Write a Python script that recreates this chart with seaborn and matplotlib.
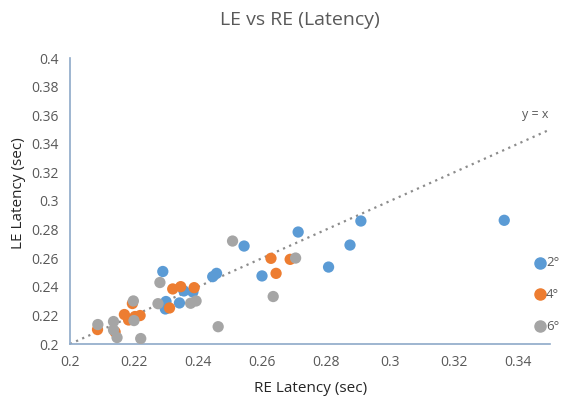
import numpy as np
import pandas as pd
import matplotlib
matplotlib.use("Agg")
import matplotlib.pyplot as plt
import seaborn as sns

# RE / LE latency (sec) per eccentricity
re_2 = [0.2290, 0.2300, 0.2298, 0.2342, 0.2356, 0.2384, 0.2446, 0.2458,
        0.2544, 0.2600, 0.2713, 0.2808, 0.2875, 0.2909, 0.3357]
le_2 = [0.2507, 0.2297, 0.2245, 0.2287, 0.2371, 0.2364, 0.2471, 0.2494,
        0.2685, 0.2476, 0.2783, 0.2538, 0.2692, 0.2860, 0.2865]

re_4 = [0.2086, 0.2141, 0.2170, 0.2183, 0.2195, 0.2203, 0.2219, 0.2311,
        0.2321, 0.2346, 0.2388, 0.2628, 0.2644, 0.2688]
le_4 = [0.2101, 0.2084, 0.2206, 0.2168, 0.2283, 0.2192, 0.2199, 0.2252,
        0.2385, 0.2401, 0.2394, 0.2599, 0.2494, 0.2592]

re_6 = [0.2087, 0.2136, 0.2136, 0.2147, 0.2198, 0.2200, 0.2221, 0.2275,
        0.2281, 0.2377, 0.2394, 0.2463, 0.2508, 0.2635, 0.2705]
le_6 = [0.2136, 0.2157, 0.2098, 0.2045, 0.2301, 0.2164, 0.2038, 0.2282,
        0.2430, 0.2285, 0.2301, 0.2121, 0.2720, 0.2332, 0.2601]

groups = ["2°", "4°", "6°"]
colors = ["#5B9BD5", "#ED7D31", "#A5A5A5"]

x_ticks = [0.2, 0.22, 0.24, 0.26, 0.28, 0.3, 0.32, 0.34]
y_ticks = [0.2, 0.22, 0.24, 0.26, 0.28, 0.3, 0.32, 0.34, 0.36, 0.38, 0.4]

df = pd.DataFrame({
    "RE": re_2 + re_4 + re_6,
    "LE": le_2 + le_4 + le_6,
    "group": [groups[0]] * len(re_2) + [groups[1]] * len(re_4) + [groups[2]] * len(re_6),
})

sns.set_style("white")
plt.rcParams["font.family"] = ["Open Sans", "DejaVu Sans"]

fig = plt.figure(figsize=(5.61, 4.01), dpi=100)
ax = fig.add_axes([70 / 561, 1 - 344 / 401, 480 / 561, 286 / 401])

# y = x reference line
ax.plot([0.2, 0.35], [0.2, 0.35], linestyle=(0, (1, 2)), color="#8c8c8c", linewidth=1.6, zorder=1)
ax.text(0.3455, 0.3605, "y = x", color="#595959", fontsize=9, ha="center", va="center")

sns.scatterplot(data=df, x="RE", y="LE", hue="group", hue_order=groups,
                palette=colors, s=66, linewidth=0, ax=ax, legend=False, zorder=3)

ax.set_xlim(0.2, 0.35)
ax.set_ylim(0.2, 0.4)
ax.set_xticks(x_ticks)
ax.set_yticks(y_ticks)
ax.set_xticklabels([f"{v:g}" for v in x_ticks])
ax.set_yticklabels([f"{v:g}" for v in y_ticks])
ax.tick_params(length=0, labelsize=10, labelcolor="#595959", pad=8)
ax.set_xlabel("")
ax.set_ylabel("")

for side in ["top", "right"]:
    ax.spines[side].set_visible(False)
for side in ["left", "bottom"]:
    ax.spines[side].set_color("#8EA9C8")
    ax.spines[side].set_linewidth(1.2)

fig.text(300 / 561, 1 - 20 / 401, "LE vs RE (Latency)", fontsize=14, color="#595959",
         ha="center", va="center")
fig.text(311 / 561, 1 - 389 / 401, "RE Latency (sec)", fontsize=11, color="#262626",
         ha="center", va="center")
fig.text(19 / 561, 1 - 193 / 401, "LE Latency (sec)", fontsize=11, color="#262626",
         ha="center", va="center", rotation=90)

# legend on the right
for g, c, yp in zip(groups, colors, [263, 294, 326]):
    fig.text(546 / 561, 1 - yp / 401, g, fontsize=9.5, color="#595959", ha="left", va="center")
    fig.add_artist(plt.Line2D([540 / 561], [1 - yp / 401], marker="o", markersize=8,
                              color=c, linestyle="none", transform=fig.transFigure))

fig.savefig("out.png", dpi=100)
